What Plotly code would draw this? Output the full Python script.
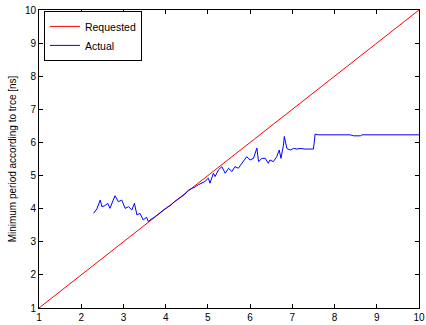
import plotly.graph_objects as go

req_x = [1, 10]
req_y = [1, 10]

act_x = [2.29, 2.37, 2.45, 2.49, 2.56, 2.63, 2.68, 2.80, 2.88, 2.96, 3.04, 3.12, 3.20, 3.26,
         3.32, 3.39, 3.47, 3.55, 3.59, 3.65, 3.72, 3.80, 3.88, 3.96, 4.04, 4.12, 4.20, 4.28,
         4.36, 4.44, 4.54, 4.62, 4.70, 4.77, 4.85, 4.93, 5.01, 5.05, 5.13, 5.17, 5.25, 5.33,
         5.41, 5.49, 5.57, 5.64, 5.72, 5.80, 5.92, 6.00, 6.08, 6.16, 6.20, 6.28, 6.36, 6.43,
         6.47, 6.55, 6.63, 6.69, 6.73, 6.79, 6.81, 6.87, 6.95, 7.03, 7.11, 7.18, 7.30, 7.50,
         7.54, 7.62, 7.78, 8.37, 8.45, 8.61, 8.65, 10.0]
act_y = [3.86, 3.99, 4.26, 4.06, 4.09, 4.16, 4.01, 4.39, 4.21, 4.26, 4.01, 4.06, 3.96, 4.16,
         3.81, 3.86, 3.66, 3.74, 3.61, 3.68, 3.73, 3.82, 3.88, 3.97, 4.04, 4.10, 4.20, 4.27,
         4.33, 4.42, 4.56, 4.60, 4.66, 4.72, 4.76, 4.82, 4.92, 4.77, 5.07, 4.97, 5.17, 5.27,
         5.07, 5.22, 5.12, 5.27, 5.22, 5.37, 5.57, 5.47, 5.52, 5.83, 5.42, 5.52, 5.52, 5.37,
         5.47, 5.42, 5.57, 5.77, 5.52, 5.92, 6.18, 5.82, 5.77, 5.82, 5.80, 5.82, 5.80, 5.80,
         6.25, 6.23, 6.23, 6.23, 6.20, 6.20, 6.23, 6.23]

ticks = [1, 2, 3, 4, 5, 6, 7, 8, 9, 10]

FONT = "Liberation Sans, Arial"

fig = go.Figure()
fig.add_trace(go.Scatter(x=req_x, y=req_y, mode="lines", name="Requested",
                         line=dict(color="#ff0000", width=1)))
fig.add_trace(go.Scatter(x=act_x, y=act_y, mode="lines", name="Actual",
                         line=dict(color="#0000ff", width=1)))

axis_common = dict(range=[1, 10], tickvals=ticks, ticktext=[str(t) for t in ticks],
                   showgrid=False, zeroline=False, showline=True, linecolor="black",
                   linewidth=1, mirror="ticks", ticks="inside", ticklen=4,
                   tickcolor="black", automargin=False, ticklabeloverflow="allow",
                   tickfont=dict(family=FONT, size=10, color="black"))

fig.update_layout(
    width=426, height=325,
    margin=dict(l=39, r=7, t=10, b=17),
    paper_bgcolor="white", plot_bgcolor="white",
    xaxis=dict(**axis_common),
    yaxis=dict(**axis_common, title=dict(text="Minimum period according to trce [ns]",
                                         font=dict(family=FONT, size=10, color="black"),
                                         standoff=6)),
    legend=dict(x=0.013, y=0.997, xanchor="left", yanchor="top", bgcolor="white",
                bordercolor="black", borderwidth=1,
                font=dict(family=FONT, size=10.5, color="black"),
                tracegroupgap=0, itemwidth=30),
    showlegend=True,
)

# remove the default page margin so the figure sits at the window's top-left corner
fig.write_html("out.html",
               config={"displayModeBar": False},
               post_script="document.body.style.margin='0';document.body.style.padding='0';")
